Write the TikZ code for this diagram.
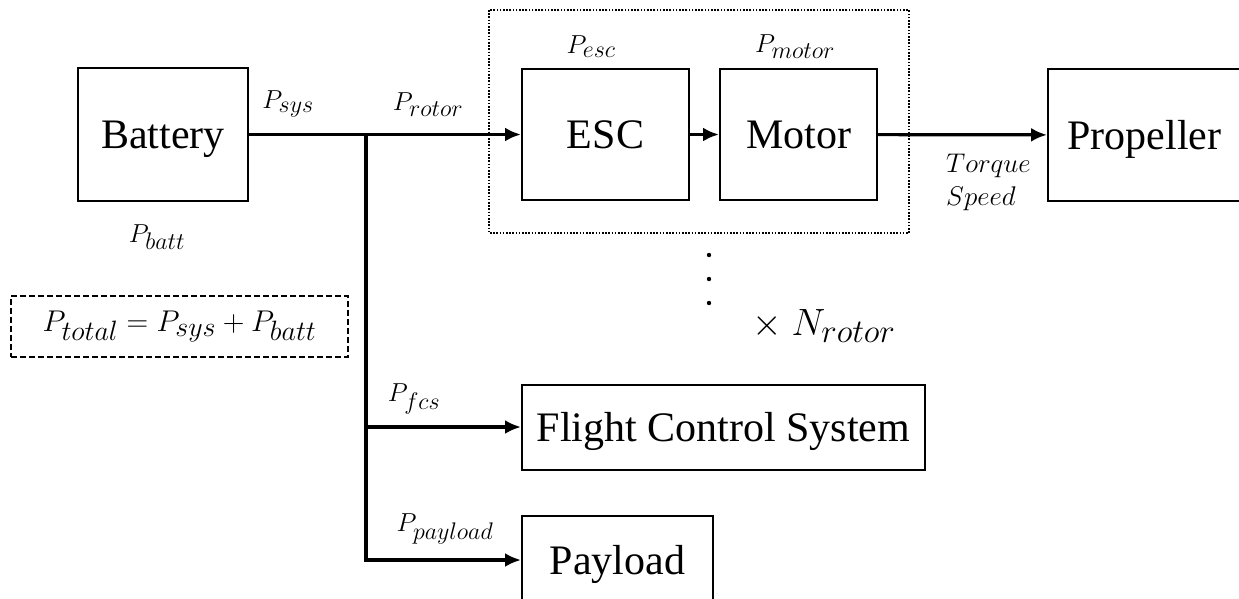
\documentclass[tikz,border=0pt]{standalone}
\usepackage{fix-cm}
\usepackage{fontspec}
\setmainfont{Liberation Serif}
\usepackage{tikz}
\usetikzlibrary{arrows.meta,positioning,calc}
\DeclareMathSizes{26}{26}{24}{17}
\DeclareMathSizes{27}{27}{23}{16}
\DeclareMathSizes{30}{30}{28}{20}
\DeclareMathSizes{38}{38}{33}{24}

\tikzset{
  block/.style={draw, line width=2pt, inner sep=0pt,
    font=\fontsize{42}{48}\selectfont, text height=28pt, text depth=0pt},
  lbl/.style={inner sep=0pt, font=\fontsize{26}{30}\selectfont},
  flow/.style={line width=3.2pt, -{Latex[length=16pt,width=14pt]}},
}

\begin{document}
\begin{tikzpicture}[x=1pt, y=-1pt]
\useasboundingbox (0,0) rectangle (1239,598);

% rotor group (repeated N times)
\draw[line width=1.6pt, dash pattern=on 1.6pt off 1.6pt] (489,10) rectangle (909,233);

\node[block, minimum width=170pt, minimum height=133pt] (batt) at (163,134.5) {Battery};
\node[block, minimum width=167pt, minimum height=131pt] (esc) at (605.5,134.5) {ESC};
\node[block, minimum width=157pt, minimum height=131pt] (motor) at (798.5,134.5) {Motor};
\node[block, minimum width=193pt, minimum height=132pt] (prop) at (1144.5,135) {Propeller};
\node[block, minimum width=403pt, minimum height=85pt] (fcs) at (723.5,427) {Flight Control System};
\node[block, minimum width=191pt, minimum height=88pt] (pay) at (617.5,560) {Payload};

\coordinate (j) at (366,134.5);

\draw[flow] (batt.east) -- (esc.west);
\draw[flow] (esc) -- (motor);
\draw[flow] (motor) -- (prop);
\draw[flow] (j) |- (fcs.west);
\draw[flow] (j) |- (pay.west);

% power labels
\node[lbl] (psys) at (288,104) {$P_{sys}$};
\node[lbl] (prot) at (428,105) {$P_{rotor}$};
\node[lbl] (pbat) at (157,237) {$P_{batt}$};
\node[lbl] (pesc) at (591,47) {$P_{esc}$};
\node[lbl] (pmot) at (795,47) {$P_{motor}$};
\node[lbl] (pfcs) at (414,399) {$P_{fcs}$};
\node[lbl] (ppay) at (445,529) {$P_{payload}$};
\node[lbl, font=\fontsize{27}{33}\selectfont, align=left, anchor=west] (ts) at (946,182) {$Torque$\\$Speed$};

\node[draw, line width=1.8pt, dash pattern=on 6pt off 3pt, inner sep=0pt,
  minimum width=337pt, minimum height=61pt, font=\fontsize{30}{36}\selectfont] (tot) at (179.5,326.5)
  {$P_{total} = P_{sys} + P_{batt}$};

\foreach \y in {255,279,303} \fill (709,\y) circle (2.2pt);
\node[lbl, font=\fontsize{38}{44}\selectfont] (nrot) at (824,326) {$\times\ N_{rotor}$};
\end{tikzpicture}
\end{document}
